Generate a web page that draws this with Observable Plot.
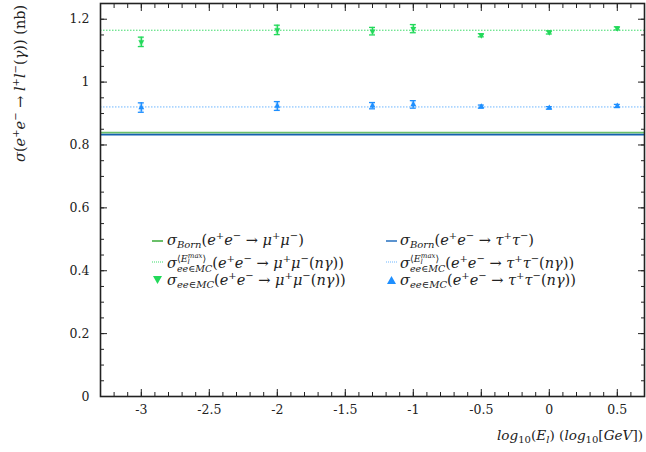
<!DOCTYPE html>
<html>
<head>
<meta charset="utf-8">
<script src="https://cdn.jsdelivr.net/npm/d3@7"></script>
<script src="https://cdn.jsdelivr.net/npm/@observablehq/plot@0.6"></script>
<style>
  html, body { margin: 0; padding: 0; background: white; }
  #wrap { position: relative; width: 646px; height: 452px; overflow: hidden; font-family: "DejaVu Serif", serif; color: #222; }
  #wrap svg { display: block; }
  .m { position: absolute; font-size: 14.5px; white-space: nowrap; line-height: 15px; }
  i { font-style: italic; }
  .sub { font-size: 10px; vertical-align: -3px; line-height: 0; }
  .sup { font-size: 10px; vertical-align: 6px; line-height: 0; }
  .ss { display: inline-block; vertical-align: -4px; font-size: 9.5px; line-height: 10px; }
  .ss > span { display: block; }
  .sym { position: absolute; }
  #ylab { position: absolute; left: 0; top: 0; transform-origin: 0 0; transform: translate(11px, 162px) rotate(-90deg); font-size: 14.5px; white-space: nowrap; line-height: 18px; }
  #xlab { position: absolute; right: 3px; top: 427px; font-size: 13.6px; white-space: nowrap; }
</style>
</head>
<body>
<div id="wrap"></div>
<script>
// ---- data ----
const energies = [-3, -2, -1.3, -1, -0.5, 0, 0.5];
const muMC    = [1.128, 1.166, 1.162, 1.170, 1.149, 1.158, 1.171];
const muErr   = [0.015, 0.015, 0.012, 0.013, 0.005, 0.005, 0.005];
const tauMC   = [0.919, 0.924, 0.925, 0.929, 0.922, 0.918, 0.924];
const tauErr  = [0.015, 0.014, 0.010, 0.012, 0.005, 0.004, 0.005];
const muMean  = [1.165];
const tauMean = [0.921];
const muBorn  = [0.839];
const tauBorn = [0.833];
const xTicks = [-3, -2.5, -2, -1.5, -1, -0.5, 0, 0.5];
const yTicks = [0, 0.2, 0.4, 0.6, 0.8, 1, 1.2];

const cMu = "#22d95a", cMuDot = "#3ddc6a", cMuBorn = "#6abf69";
const cTau = "#1e8fff", cTauDot = "#6db6ff", cTauBorn = "#1560b0";

const mu = energies.map((x, i) => ({x, y: muMC[i], e: muErr[i]}));
const tau = energies.map((x, i) => ({x, y: tauMC[i], e: tauErr[i]}));

const xMinor = d3.range(-33, 8).map(d => d / 10);
const yMinor = d3.range(0, 26).map(d => d / 20);
const capW = 0.022;

function errMarks(data, color, symbolRotate) {
  return [
    Plot.ruleX(data, {x: "x", y1: d => d.y - d.e, y2: d => d.y + d.e, stroke: color, strokeWidth: 4, strokeOpacity: 0.25}),
    Plot.ruleX(data, {x: "x", y1: d => d.y - d.e, y2: d => d.y + d.e, stroke: color, strokeWidth: 1.3}),
    Plot.ruleY(data, {y: d => d.y - d.e, x1: d => d.x - capW, x2: d => d.x + capW, stroke: color, strokeWidth: 1.3}),
    Plot.ruleY(data, {y: d => d.y + d.e, x1: d => d.x - capW, x2: d => d.x + capW, stroke: color, strokeWidth: 1.3}),
    Plot.dot(data, {x: "x", y: "y", symbol: "triangle", r: 2.2, fill: color, stroke: "none", rotate: symbolRotate})
  ];
}

const fmt = d => String(d);
const blank = () => "";

const chart = Plot.plot({
  width: 646, height: 452,
  marginLeft: 100, marginRight: 2, marginTop: 3, marginBottom: 56,
  x: {domain: [-3.3, 0.7]},
  y: {domain: [0, 1.25]},
  style: {fontFamily: "'DejaVu Serif', serif", fontSize: "12.5px", background: "white", color: "#222"},
  marks: [
    Plot.ruleY(muMean, {stroke: cMuDot, strokeWidth: 1, strokeDasharray: "1.5,1.5"}),
    Plot.ruleY(tauMean, {stroke: cTauDot, strokeWidth: 1, strokeDasharray: "1.5,1.5"}),
    Plot.ruleY(muBorn, {stroke: cMuBorn, strokeWidth: 1.8}),
    Plot.ruleY(tauBorn, {stroke: cTauBorn, strokeWidth: 1.8}),
    ...errMarks(mu, cMu, 180),
    ...errMarks(tau, cTau, 0),
    // bottom
    Plot.axisX(xMinor, {anchor: "bottom", tickSize: -4, tickFormat: blank, label: null, stroke: "#222"}),
    Plot.axisX(xTicks, {anchor: "bottom", tickSize: -7, tickFormat: blank, label: null, stroke: "#222"}),
    Plot.axisX(xTicks, {anchor: "bottom", tickSize: 0, tickPadding: 9, tickFormat: fmt, label: null}),
    // top
    Plot.axisX(xMinor, {anchor: "top", tickSize: -4, tickFormat: blank, label: null, stroke: "#222"}),
    Plot.axisX(xTicks, {anchor: "top", tickSize: -7, tickFormat: blank, label: null, stroke: "#222"}),
    // left
    Plot.axisY(yMinor, {anchor: "left", tickSize: -4, tickFormat: blank, label: null, stroke: "#222"}),
    Plot.axisY(yTicks, {anchor: "left", tickSize: -7, tickFormat: blank, label: null, stroke: "#222"}),
    Plot.axisY(yTicks, {anchor: "left", tickSize: 0, tickPadding: 11, tickFormat: fmt, label: null}),
    // right
    Plot.axisY(yMinor, {anchor: "right", tickSize: -4, tickFormat: blank, label: null, stroke: "#222"}),
    Plot.axisY(yTicks, {anchor: "right", tickSize: -7, tickFormat: blank, label: null, stroke: "#222"}),
    Plot.frame({stroke: "#222", strokeWidth: 1.6})
  ]
});

const wrap = document.getElementById("wrap");
wrap.appendChild(chart);

function add(html, cls, style) {
  const d = document.createElement("div");
  if (cls) d.className = cls;
  d.innerHTML = html;
  Object.assign(d.style, style);
  wrap.appendChild(d);
  return d;
}

// axis titles
add('<i>σ</i>(<i>e</i><span class="sup">+</span><i>e</i><span class="sup">−</span> → <i>l</i><span class="sup">+</span><i>l</i><span class="sup">−</span>(<i>γ</i>)) (nb)', "", {}).id = "ylab";
add('<i>log</i><span class="sub">10</span>(<i>E</i><span class="sub"><i>l</i></span>) (<i>log</i><span class="sub">10</span>[<i>GeV</i>])', "", {}).id = "xlab";

// legend
const stackSup = '<span class="ss"><span>⟨<i>E</i><span style="font-size:7px;display:inline-block;vertical-align:-2px;line-height:0"><i>l</i></span><span style="font-size:7px;display:inline-block;vertical-align:4px;line-height:0;margin-left:-2px"><i>max</i></span>⟩</span><span><i>ee</i>∈<i>MC</i></span></span>';
const proc = (l, tail) => `(<i>e</i><span class="sup">+</span><i>e</i><span class="sup">−</span> → <i>${l}</i><span class="sup">+</span><i>${l}</i><span class="sup">−</span>${tail})`;
const legendRows = [
  {y: 233, left: {sym: "line", color: cMuBorn, text: '<i>σ</i><span class="sub"><i>Born</i></span>' + proc("μ", "")},
           right: {sym: "line", color: "#5b93cf", text: '<i>σ</i><span class="sub"><i>Born</i></span>' + proc("τ", "")}},
  {y: 254, left: {sym: "dot", color: cMuDot, text: '<i>σ</i>' + stackSup + proc("μ", "(<i>nγ</i>)")},
           right: {sym: "dot", color: cTauDot, text: '<i>σ</i>' + stackSup + proc("τ", "(<i>nγ</i>)")}},
  {y: 273, left: {sym: "down", color: cMu, text: '<i>σ</i><span class="sub"><i>ee</i>∈<i>MC</i></span>' + proc("μ", "(<i>nγ</i>)")},
           right: {sym: "up", color: cTau, text: '<i>σ</i><span class="sub"><i>ee</i>∈<i>MC</i></span>' + proc("τ", "(<i>nγ</i>)")}}
];

function symbolSvg(kind, color) {
  if (kind === "line") return `<svg width="11" height="6"><line x1="0" x2="11" y1="3" y2="3" stroke="${color}" stroke-width="2"/></svg>`;
  if (kind === "dot") return `<svg width="11" height="6"><line x1="0" x2="11" y1="3" y2="3" stroke="${color}" stroke-width="1" stroke-dasharray="1,1"/></svg>`;
  if (kind === "down") return `<svg width="11" height="10"><path d="M1,1 L10,1 L5.5,9 Z" fill="${color}"/></svg>`;
  return `<svg width="11" height="10"><path d="M1,9 L10,9 L5.5,1 Z" fill="${color}"/></svg>`;
}

for (const row of legendRows) {
  for (const [side, sx, tx] of [["left", 152, 167], ["right", 386, 400]]) {
    const it = row[side];
    const symTop = it.sym === "line" || it.sym === "dot" ? row.y + 5 : row.y + 2;
    add(symbolSvg(it.sym, it.color), "sym", {left: sx + "px", top: symTop + "px"});
    add(it.text, "m", {left: tx + "px", top: row.y + "px"});
  }
}
</script>
</body>
</html>
